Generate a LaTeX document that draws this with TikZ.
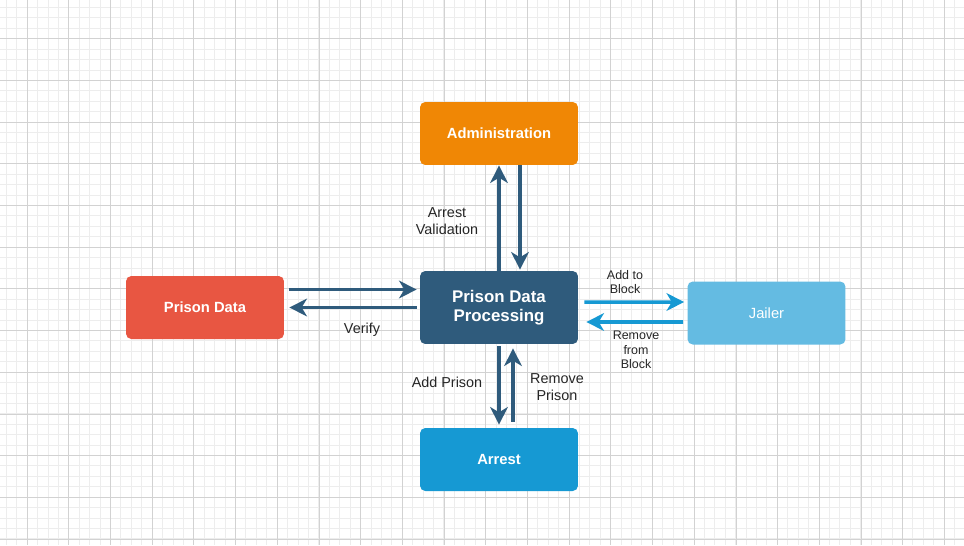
\documentclass[tikz,border=0pt]{standalone}
\usepackage{fontspec}
\setmainfont{Liberation Sans}
\usetikzlibrary{arrows.meta}
\definecolor{admorange}{HTML}{F08705}
\definecolor{procblue}{HTML}{2F5B7C}
\definecolor{datared}{HTML}{E85642}
\definecolor{jailblue}{HTML}{64BBE2}
\definecolor{arrestblue}{HTML}{1699D3}
\definecolor{gridminor}{HTML}{EDEDED}
\definecolor{gridmajor}{HTML}{D2D2D2}
\tikzset{
    box/.style={rounded corners=3pt, minimum width=3.16cm, minimum height=1.26cm,
        text=white, font=\fontsize{8.4}{9.5}\selectfont\bfseries, align=center, inner sep=0pt},
    flow/.style={line width=2pt, draw=procblue, -{Stealth[length=10pt, width=10pt, inset=3pt]}},
    flowlight/.style={flow, draw=arrestblue},
    lbl/.style={font=\fontsize{8.2}{9.4}\selectfont, text=black!85, align=center},
    lblsmall/.style={font=\fontsize{7.1}{8.2}\selectfont, text=black!85, align=center}
}
\begin{document}
\begin{tikzpicture}[x=0.02cm, y=-0.02cm]
    \useasboundingbox (0,0) rectangle (964,545);
    \fill[white] (0,0) rectangle (964,545);
    % grid, snapped to whole pixels
    \foreach \i in {0,...,95}{
        \draw[gridminor, line width=0.02cm] ({round(-15+\i*10.42)+0.5},0) -- ({round(-15+\i*10.42)+0.5},545);}
    \foreach \i in {0,...,54}{
        \draw[gridminor, line width=0.02cm] (0,{round(-3.4+\i*10.42)+0.5}) -- (964,{round(-3.4+\i*10.42)+0.5});}
    \foreach \i in {0,...,24}{
        \draw[gridmajor, line width=0.02cm] ({round(-15+\i*41.7)+0.5},0) -- ({round(-15+\i*41.7)+0.5},545);}
    \foreach \i in {0,...,13}{
        \draw[gridmajor, line width=0.02cm] (0,{round(-3.4+\i*41.7)+0.5}) -- (964,{round(-3.4+\i*41.7)+0.5});}
    % boxes
    \node[box, fill=admorange] (admin) at (499,133.5) {Administration};
    \node[box, fill=procblue, minimum height=1.46cm, font=\fontsize{9.6}{11}\selectfont\bfseries] (proc) at (499,307.5) {Prison Data\\Processing};
    \node[box, fill=datared] (data) at (205,307.5) {Prison Data};
    \node[box, fill=jailblue, font=\fontsize{8.4}{9.5}\selectfont] (jailer) at (766.5,313) {Jailer};
    \node[box, fill=arrestblue] (arrest) at (499,459.5) {Arrest};
    % connectors
    \draw[flow] ([yshift=-0.02cm]proc.north) -- (admin.south);
    \draw[flow] ([xshift=0.42cm]admin.south) -- ([xshift=0.42cm,yshift=0.02cm]proc.north);
    \draw[flow] ([xshift=0.1cm,yshift=0.36cm]data.east) -- ([xshift=-0.06cm,yshift=0.36cm]proc.west);
    \draw[flow] ([xshift=-0.06cm]proc.west) -- ([xshift=0.1cm]data.east);
    \draw[flowlight] ([xshift=0.12cm,yshift=0.11cm]proc.east) -- ([xshift=-0.06cm,yshift=0.22cm]jailer.west);
    \draw[flowlight] ([xshift=-0.08cm,yshift=-0.18cm]jailer.west) -- ([xshift=0.16cm,yshift=-0.29cm]proc.east);
    \draw[flow] ([yshift=-0.04cm]proc.south) -- ([yshift=0.06cm]arrest.north);
    \draw[flow] ([xshift=0.28cm,yshift=0.12cm]arrest.north) -- ([xshift=0.28cm,yshift=-0.08cm]proc.south);
    % labels
    \node[lbl] (lvalid) at (447,221) {Arrest\\Validation};
    \node[lbl] (lverify) at (362,330) {Verify};
    \node[lblsmall] (laddblock) at (625,282) {Add to\\Block};
    \node[lblsmall] (lremblock) at (636,350) {Remove\\from\\Block};
    \node[lbl] (laddpris) at (447,382) {Add Prison};
    \node[lbl] (lrempris) at (557,387) {Remove\\Prison};
\end{tikzpicture}
\end{document}
